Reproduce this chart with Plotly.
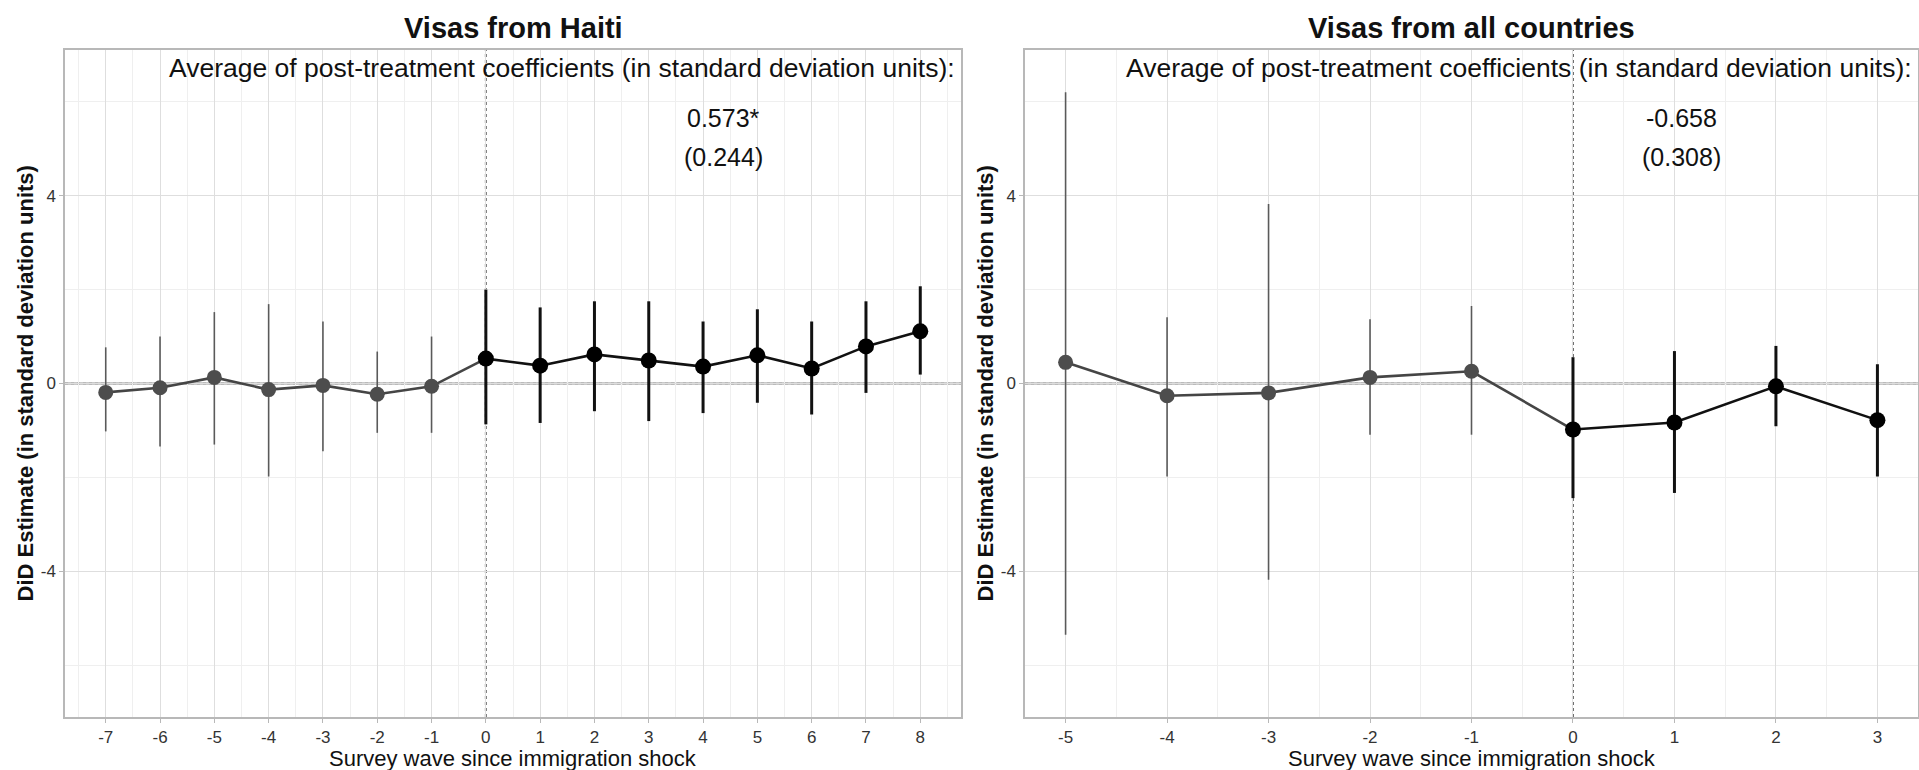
import plotly.graph_objects as go

# ---------------- data ----------------
haiti_wave = [-7, -6, -5, -4, -3, -2, -1, 0, 1, 2, 3, 4, 5, 6, 7, 8]
haiti_est = [-0.19, -0.09, 0.13, -0.13, -0.04, -0.23, -0.06, 0.53, 0.38, 0.62, 0.49, 0.36, 0.60, 0.32, 0.79, 1.11]
haiti_hi = [0.77, 1.00, 1.52, 1.69, 1.32, 0.68, 1.00, 2.00, 1.62, 1.75, 1.75, 1.32, 1.58, 1.32, 1.75, 2.07]
haiti_lo = [-1.02, -1.34, -1.30, -1.98, -1.44, -1.05, -1.05, -0.87, -0.84, -0.59, -0.80, -0.63, -0.41, -0.66, -0.20, 0.19]

all_wave = [-5, -4, -3, -2, -1, 0, 1, 2, 3]
all_est = [0.45, -0.26, -0.20, 0.13, 0.26, -0.98, -0.83, -0.06, -0.78]
all_hi = [6.20, 1.41, 3.82, 1.37, 1.65, 0.56, 0.69, 0.80, 0.41]
all_lo = [-5.35, -1.98, -4.18, -1.09, -1.09, -2.44, -2.33, -0.91, -1.98]

panel_titles = ["Visas from Haiti", "Visas from all countries"]
avg_label = "Average of post-treatment coefficients (in standard deviation units):"
avg_values = ["0.573*", "-0.658"]
avg_se = ["(0.244)", "(0.308)"]
x_title = "Survey wave since immigration shock"
y_title = "DiD Estimate (in standard deviation units)"
y_ticks = [-4, 0, 4]
y_minor = [-6, -2, 2, 6]

FONT = "Liberation Sans"
W, H = 1919, 770

# panel geometry (pixels)
panels = [
    dict(x0=65, x1=961, wave=haiti_wave, est=haiti_est, lo=haiti_lo, hi=haiti_hi, xr=[-7.75, 8.75]),
    dict(x0=1025, x1=1918, wave=all_wave, est=all_est, lo=all_lo, hi=all_hi, xr=[-5.4, 3.4]),
]
y_top, y_bot = 50, 717
YR = [-7.1, 7.1]

fig = go.Figure()
layout = dict(
    width=W, height=H, autosize=False,
    margin=dict(l=0, r=0, t=0, b=0),
    paper_bgcolor="white", plot_bgcolor="white",
    showlegend=False,
    font=dict(family=FONT, color="#222222"),
)
annotations = []
shapes = []

for i, p in enumerate(panels):
    sfx = "" if i == 0 else str(i + 1)
    xa, ya = "x" + sfx, "y" + sfx
    wave, est, lo, hi = p["wave"], p["est"], p["lo"], p["hi"]
    pre = [k for k, w in enumerate(wave) if w < 0]
    post = [k for k, w in enumerate(wave) if w >= 0]

    def segs(idx):
        xs, ys = [], []
        for k in idx:
            xs += [wave[k], wave[k], None]
            ys += [lo[k], hi[k], None]
        return xs, ys

    # error bars
    xs, ys = segs(pre)
    fig.add_trace(go.Scatter(x=xs, y=ys, mode="lines", xaxis=xa, yaxis=ya,
                             line=dict(color="#5a5a5a", width=1.6), hoverinfo="skip"))
    xs, ys = segs(post)
    fig.add_trace(go.Scatter(x=xs, y=ys, mode="lines", xaxis=xa, yaxis=ya,
                             line=dict(color="#111111", width=3), hoverinfo="skip"))
    # connecting lines
    kpre = pre + [post[0]]
    fig.add_trace(go.Scatter(x=[wave[k] for k in kpre], y=[est[k] for k in kpre], mode="lines",
                             xaxis=xa, yaxis=ya, line=dict(color="#454545", width=2.6)))
    fig.add_trace(go.Scatter(x=[wave[k] for k in post], y=[est[k] for k in post], mode="lines",
                             xaxis=xa, yaxis=ya, line=dict(color="#111111", width=2.6)))
    # points
    fig.add_trace(go.Scatter(x=[wave[k] for k in pre], y=[est[k] for k in pre], mode="markers",
                             xaxis=xa, yaxis=ya, marker=dict(color="#4d4d4d", size=15)))
    fig.add_trace(go.Scatter(x=[wave[k] for k in post], y=[est[k] for k in post], mode="markers",
                             xaxis=xa, yaxis=ya, marker=dict(color="#000000", size=16)))

    minor_x = [wave[0] - 0.5] + [w + 0.5 for w in wave]
    layout["xaxis" + sfx] = dict(
        domain=[p["x0"] / W, p["x1"] / W], anchor=ya, range=p["xr"],
        tickmode="array", tickvals=wave, ticktext=[str(w) for w in wave],
        showgrid=True, gridcolor="#dedede", gridwidth=1.3,
        minor=dict(tickmode="array", tickvals=minor_x, showgrid=True, gridcolor="#efefef", gridwidth=1, ticks=""),
        zeroline=False, showline=True, mirror=True, linecolor="#b8b8b8", linewidth=1.5,
        ticks="outside", ticklen=4, tickcolor="#b8b8b8", tickwidth=1.3,
        tickfont=dict(family=FONT, size=17, color="#333333"),
    )
    layout["yaxis" + sfx] = dict(
        domain=[1 - y_bot / H, 1 - y_top / H], anchor=xa, range=YR,
        tickmode="array", tickvals=y_ticks, ticktext=[str(v) for v in y_ticks],
        showgrid=True, gridcolor="#dedede", gridwidth=1.3,
        minor=dict(tickmode="array", tickvals=y_minor, showgrid=True, gridcolor="#efefef", gridwidth=1, ticks=""),
        zeroline=False, showline=True, mirror=True, linecolor="#b8b8b8", linewidth=1.5,
        ticks="outside", ticklen=4, tickcolor="#b8b8b8", tickwidth=1.3,
        tickfont=dict(family=FONT, size=17, color="#333333"),
    )

    # reference lines
    shapes.append(dict(type="line", xref=xa + " domain", yref=ya, x0=0, x1=1, y0=0, y1=0,
                       line=dict(color="#c9c9c9", width=3), layer="below"))
    shapes.append(dict(type="line", xref=xa + " domain", yref=ya, x0=0, x1=1, y0=0, y1=0,
                       line=dict(color="#8f8f8f", width=1.5, dash="dot"), layer="below"))
    shapes.append(dict(type="line", xref=xa, yref=ya + " domain", x0=0, x1=0, y0=0, y1=1,
                       line=dict(color="#6e6e6e", width=2, dash="dot"), layer="below"))

    cx = (p["x0"] + p["x1"]) / 2
    # panel title
    annotations.append(dict(text="<b>" + panel_titles[i] + "</b>", x=cx / W, y=1 - 28 / H,
                            xref="paper", yref="paper", xanchor="center", yanchor="middle",
                            showarrow=False, font=dict(family=FONT, size=29, color="#111111")))
    # average text
    annotations.append(dict(text=avg_label, x=(p["x1"] - 4) / W, y=1 - 68 / H,
                            xref="paper", yref="paper", xanchor="right", yanchor="middle",
                            showarrow=False, font=dict(family=FONT, size=26.5, color="#111111")))
    vx = (p["x0"] + 0.735 * (p["x1"] - p["x0"])) / W
    annotations.append(dict(text=avg_values[i], x=vx, y=1 - 118 / H, xref="paper", yref="paper",
                            xanchor="center", yanchor="middle", showarrow=False,
                            font=dict(family=FONT, size=25, color="#111111")))
    annotations.append(dict(text=avg_se[i], x=vx, y=1 - 157 / H, xref="paper", yref="paper",
                            xanchor="center", yanchor="middle", showarrow=False,
                            font=dict(family=FONT, size=25, color="#111111")))
    # axis titles
    annotations.append(dict(text=x_title, x=cx / W, y=1 - 758 / H, xref="paper", yref="paper",
                            xanchor="center", yanchor="middle", showarrow=False,
                            font=dict(family=FONT, size=22, color="#111111")))
    annotations.append(dict(text="<b>" + y_title + "</b>", x=(p["x0"] - 40) / W,
                            y=1 - (y_top + y_bot) / 2 / H, xref="paper", yref="paper",
                            xanchor="center", yanchor="middle", textangle=-90, showarrow=False,
                            font=dict(family=FONT, size=22, color="#111111")))

layout["annotations"] = annotations
layout["shapes"] = shapes
fig.update_layout(**layout)
fig.write_html("out.html",
               config={"displayModeBar": False},
               post_script="document.body.style.margin='0';document.body.style.overflow='hidden';")
